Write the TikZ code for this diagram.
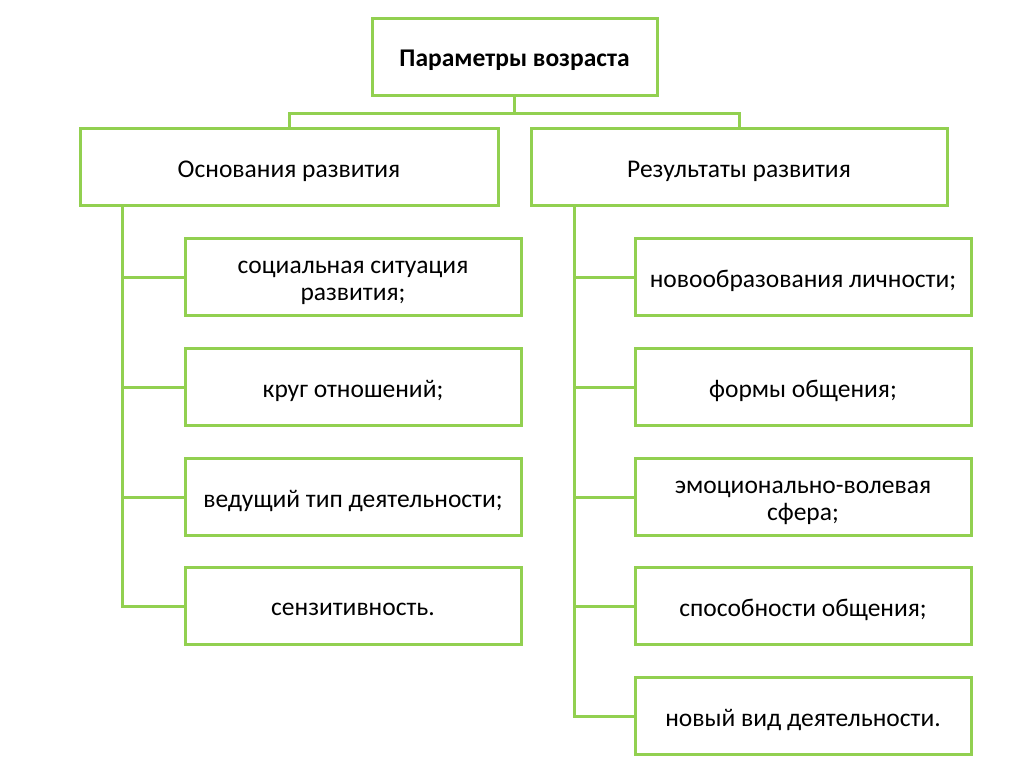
\documentclass[tikz,border=0pt]{standalone}
\usepackage{fontspec}
\setmainfont{Carlito}
\definecolor{boxgreen}{HTML}{92D050}
\begin{document}
\begin{tikzpicture}[x=1pt,y=-1pt,
  box/.style={draw=boxgreen,line width=3pt,fill=white,minimum width=#1,minimum height=77pt,inner sep=0pt},
  box/.default=336pt,
  txt/.style={inner sep=0pt,align=center,font=\fontsize{25.5}{27}\selectfont,yshift=-3.5pt},
  txttwo/.style={txt,yshift=-2.5pt},
  link/.style={draw=boxgreen,line width=3pt}]
\useasboundingbox (0,0) rectangle (1024,767);
\node[box=285pt,label={[txt,yshift=1pt,font=\fontsize{25.5}{27}\selectfont\bfseries]center:Параметры возраста}] (top) at (514.5,57.5) {};
\node[box=418pt,label={[txt]center:Основания развития}] (L) at (289,167.5) {};
\node[box=416pt,label={[txt]center:Результаты развития}] (R) at (739,167.5) {};
\node[box,label={[txttwo]center:социальная ситуация\\развития;}] (l1) at (353,277) {};
\node[box,label={[txt]center:круг отношений;}] (l2) at (353,387) {};
\node[box,label={[txt]center:ведущий тип деятельности;}] (l3) at (353,497) {};
\node[box,label={[txt]center:сензитивность.}] (l4) at (353,606) {};
\node[box,label={[txt]center:новообразования личности;}] (r1) at (803,277) {};
\node[box,label={[txt]center:формы общения;}] (r2) at (803,387) {};
\node[box,label={[txttwo]center:эмоционально-волевая\\сфера;}] (r3) at (803,497) {};
\node[box,label={[txt]center:способности общения;}] (r4) at (803,606) {};
\node[box,label={[txt]center:новый вид деятельности.}] (r5) at (803,716) {};
\coordinate (j) at (514.5,114);
\draw[link] (top.south) -- (j);
\draw[link] (L.north) |- (j) -| (R.north);
\coordinate (lx) at (122,206);
\coordinate (rx) at (574,206);
\draw[link] (lx|-L.south) |- (l4.west);
\foreach \n in {l1,l2,l3} \draw[link] (lx|-\n.west) -- (\n.west);
\draw[link] (rx|-R.south) |- (r5.west);
\foreach \n in {r1,r2,r3,r4} \draw[link] (rx|-\n.west) -- (\n.west);
\end{tikzpicture}
\end{document}
